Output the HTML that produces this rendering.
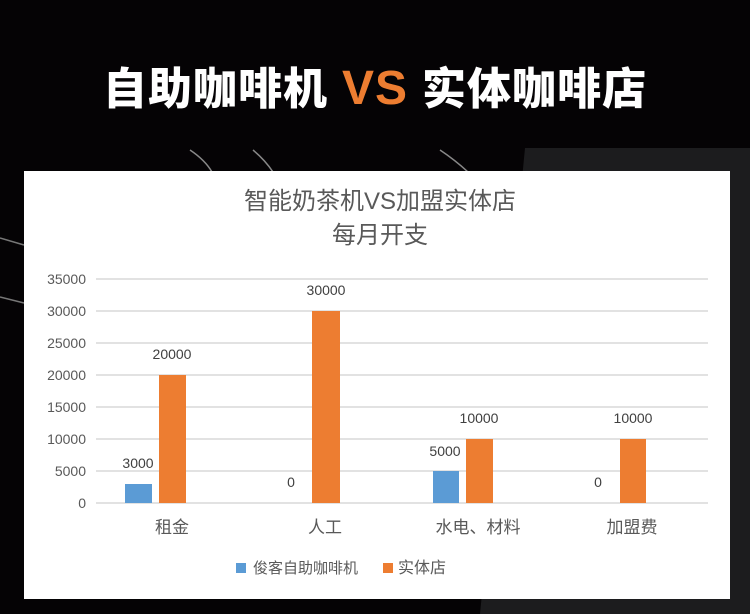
<!DOCTYPE html>
<html><head><meta charset="utf-8"><style>
body{margin:0;width:750px;height:614px;background:#050305;overflow:hidden;position:relative;font-family:"Liberation Sans","Noto Sans CJK SC",sans-serif}
.t{position:absolute;top:53px;left:0;width:750px;text-align:center;font-size:44px;font-weight:900;color:#fff;white-space:nowrap;font-family:"Noto Sans CJK SC",sans-serif;letter-spacing:1px}
.t span{color:#ed7d31;font-family:"Liberation Sans",sans-serif;font-weight:bold;margin:0 14px;font-size:48px}
</style></head><body>
<svg width="750" height="614" style="position:absolute;left:0;top:0">
<polygon points="525,148 750,148 750,614 480,614" fill="#1c1c1e"/>
<path d="M190,150 Q205,160 212,172" stroke="#888" stroke-width="1.5" fill="none"/>
<path d="M253,150 Q265,160 273,172" stroke="#888" stroke-width="1.5" fill="none"/>
<path d="M440,150 Q455,160 468,172" stroke="#888" stroke-width="1.5" fill="none"/>
<path d="M0,238 L24,245" stroke="#777" stroke-width="1.5"/>
<path d="M0,297 L24,303" stroke="#777" stroke-width="1.5"/>
<rect x="24" y="171" width="706" height="428" fill="#fff"/>
<g font-family="Liberation Sans,Noto Sans CJK SC,sans-serif" fill="#595959">
<text x="380" y="209" font-size="24" text-anchor="middle">智能奶茶机VS加盟实体店</text>
<text x="380" y="243" font-size="24" text-anchor="middle">每月开支</text>
<g stroke="#d9d9d9" stroke-width="1.5">
<line x1="96" x2="708" y1="279" y2="279"/><line x1="96" x2="708" y1="311" y2="311"/><line x1="96" x2="708" y1="343" y2="343"/><line x1="96" x2="708" y1="375" y2="375"/><line x1="96" x2="708" y1="407" y2="407"/><line x1="96" x2="708" y1="439" y2="439"/><line x1="96" x2="708" y1="471" y2="471"/><line x1="96" x2="708" y1="503" y2="503"/>
</g>
<g font-size="14" text-anchor="end">
<text x="86" y="284">35000</text><text x="86" y="316">30000</text><text x="86" y="348">25000</text><text x="86" y="380">20000</text><text x="86" y="412">15000</text><text x="86" y="444">10000</text><text x="86" y="476">5000</text><text x="86" y="508">0</text>
</g>
<g fill="#5b9bd5"><rect x="125" y="484" width="27" height="19"/><rect x="433" y="471" width="26" height="32"/></g>
<g fill="#ed7d31"><rect x="159" y="375" width="27" height="128"/><rect x="312" y="311" width="28" height="192"/><rect x="466" y="439" width="27" height="64"/><rect x="620" y="439" width="26" height="64"/></g>
<g font-size="14" text-anchor="middle" fill="#404040">
<text x="138" y="468">3000</text><text x="172" y="359">20000</text>
<text x="291" y="487">0</text><text x="326" y="295">30000</text>
<text x="445" y="456">5000</text><text x="479" y="423">10000</text>
<text x="598" y="487">0</text><text x="633" y="423">10000</text>
</g>
<g font-size="17" text-anchor="middle">
<text x="172" y="533">租金</text><text x="325" y="533">人工</text><text x="478" y="533">水电、材料</text><text x="632" y="533">加盟费</text>
</g>
<rect x="236" y="563" width="10" height="10" fill="#5b9bd5"/>
<text x="253" y="573" font-size="15">俊客自助咖啡机</text>
<rect x="383" y="563" width="10" height="10" fill="#ed7d31"/>
<text x="398" y="573" font-size="16">实体店</text>
</g>
</svg>
<div class="t">自助咖啡机<span>VS</span>实体咖啡店</div>
</body></html>
